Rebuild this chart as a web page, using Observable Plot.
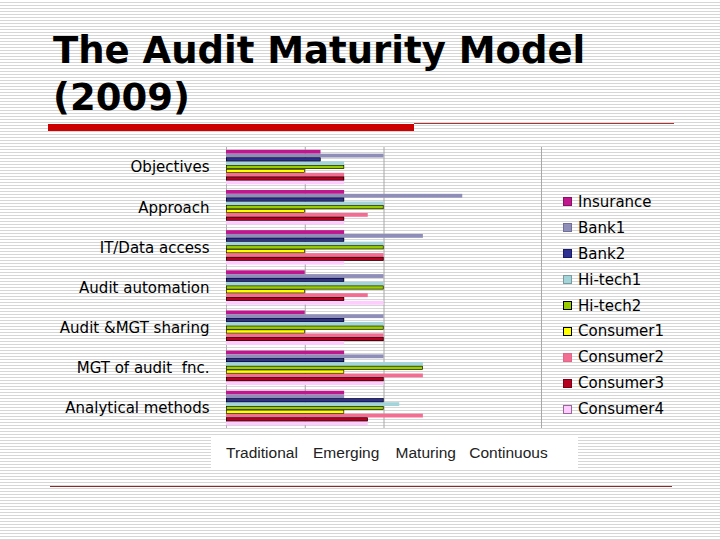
<!DOCTYPE html>
<html>
<head>
<meta charset="utf-8">
<script src="https://cdn.jsdelivr.net/npm/d3@7"></script>
<script src="https://cdn.jsdelivr.net/npm/@observablehq/plot@0.6"></script>
<style>
  html, body { margin: 0; padding: 0; }
  body {
    width: 720px; height: 540px; position: relative; overflow: hidden;
    background: repeating-linear-gradient(to bottom, #ffffff 0px, #ffffff 2px, #d6d6d6 2px, #d6d6d6 3px);
    font-family: "DejaVu Sans", sans-serif;
  }
  #title {
    position: absolute; left: 53px; top: 27px;
    font-family: "DejaVu Sans", sans-serif; font-weight: bold;
    font-size: 37px; line-height: 47px; color: #000;
  }
  #redbar { position: absolute; left: 48px; top: 124px; width: 366px; height: 7px; background: #cc0000; }
  #redline { position: absolute; left: 414px; top: 123px; width: 260px; height: 1px; background: #b03030; }
  #bottomline { position: absolute; left: 50px; top: 486px; width: 622px; height: 1px; background: #8b2a2a; }
  #labelbox { position: absolute; left: 211px; top: 437px; width: 367px; height: 32px; background: #fff; }
  #chart { position: absolute; left: 0; top: 140px; }
  #legend { position: absolute; left: 563px; top: 189px; font-family: "DejaVu Sans", sans-serif; font-size: 15px; color: #000; }
  .row { height: 25.9px; display: flex; align-items: center; white-space: nowrap; }
  .sw { width: 7px; height: 7px; margin-right: 6px; border: 1px solid; }
</style>
</head>
<body>
<div id="title">The Audit Maturity Model<br>(2009)</div>
<div id="redbar"></div>
<div id="redline"></div>
<div id="bottomline"></div>
<div id="labelbox"></div>
<div id="chart"></div>
<div id="legend"></div>
<script>
const categories = ["Objectives", "Approach", "IT/Data access", "Audit automation", "Audit &MGT sharing", "MGT of audit  fnc.", "Analytical methods"];
const seriesNames = ["Insurance", "Bank1", "Bank2", "Hi-tech1", "Hi-tech2", "Consumer1", "Consumer2", "Consumer3", "Consumer4"];
const seriesColors = ["#C0178F", "#8E8EB8", "#2E3192", "#A3D4DA", "#99CC00", "#FFFF00", "#F26D91", "#B5001F", "#FFCCFF"];
const swatchBorders = ["#8a1066", "#6f6f99", "#1a1d66", "#7a9ca0", "#000000", "#000000", "#e0668a", "#7a0015", "#996699"];
const outlinedSeries = ["Bank2", "Hi-tech2", "Consumer1", "Consumer3"];

const insurance = [1.2, 1.5, 1.5, 1.0, 1.0, 1.5, 1.5];
const bank1     = [2.0, 3.0, 2.5, 2.0, 2.0, 2.0, 1.5];
const bank2     = [1.2, 1.5, 1.5, 1.5, 1.5, 1.5, 2.0];
const hitech1   = [1.5, 2.0, 2.0, 2.0, 2.0, 2.5, 2.2];
const hitech2   = [1.5, 2.0, 2.0, 2.0, 2.0, 2.5, 2.0];
const consumer1 = [1.0, 1.0, 1.0, 1.0, 1.0, 1.5, 1.5];
const consumer2 = [1.5, 1.8, 2.0, 1.8, 2.0, 2.5, 2.5];
const consumer3 = [1.5, 1.5, 2.0, 1.5, 2.0, 2.0, 1.8];
const consumer4 = [1.5, 1.5, 1.5, 2.0, 1.5, 2.0, 1.8];

const xLabels = ["Traditional", "Emerging", "Maturing", "Continuous"];
const xLabelPositions = [0.45, 1.52, 2.53, 3.58];
const gridTicks = [1, 2, 4];

const seriesValues = [insurance, bank1, bank2, hitech1, hitech2, consumer1, consumer2, consumer3, consumer4];
const data = [];
categories.forEach((c, ci) => {
  seriesNames.forEach((s, si) => {
    data.push({category: c, series: s, value: seriesValues[si][ci]});
  });
});

const chart = Plot.plot({
  width: 720,
  height: 330,
  marginLeft: 226,
  marginRight: 179,
  marginTop: 7,
  marginBottom: 42,
  style: {background: "transparent", overflow: "visible"},
  x: {domain: [0, 4], label: null},
  y: {domain: seriesNames, paddingInner: 0, paddingOuter: 0.75, round: false, axis: null},
  fy: {domain: categories, padding: 0, round: false, label: null},
  color: {domain: seriesNames, range: seriesColors},
  marks: [
    Plot.gridX({ticks: gridTicks, stroke: "#a8a8a8", strokeOpacity: 1}),
    Plot.ruleX([0], {stroke: "#b0b0b0"}),
    Plot.barX(data, {x: "value", y: "series", fy: "category", fill: "series", inset: 0}),
    Plot.barX(data.filter(d => outlinedSeries.includes(d.series)), {x: "value", y: "series", fy: "category", fill: "none", stroke: "#000", strokeWidth: 0.6, inset: 0.3}),
    Plot.axisFy({anchor: "left", tickSize: 0, tickPadding: 17, fontSize: 15, fontFamily: "DejaVu Sans", fill: "#000", label: null}),
    Plot.axisX({ticks: xLabelPositions, tickFormat: d => xLabels[xLabelPositions.indexOf(d)], tickSize: 0, tickPadding: 18, fontSize: 15.5, fontFamily: "Liberation Sans", fill: "#222", label: null})
  ]
});
document.getElementById("chart").appendChild(chart);

const legend = document.getElementById("legend");
seriesNames.forEach((s, i) => {
  const row = document.createElement("div");
  row.className = "row";
  const sw = document.createElement("span");
  sw.className = "sw";
  sw.style.background = seriesColors[i];
  sw.style.borderColor = swatchBorders[i];
  const t = document.createElement("span");
  t.textContent = s;
  row.appendChild(sw);
  row.appendChild(t);
  legend.appendChild(row);
});
</script>
</body>
</html>
